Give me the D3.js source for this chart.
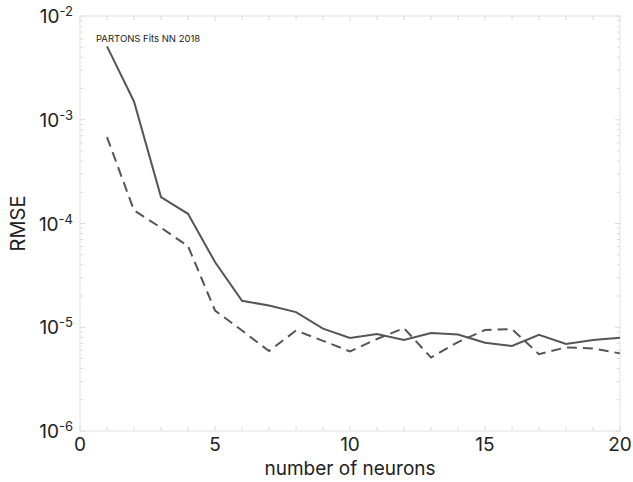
<!DOCTYPE html>
<html lang="en">
<head>
  <meta charset="UTF-8">
  <title>RMSE vs number of neurons</title>
  <script src="https://d3js.org/d3.v7.min.js"></script>
  <style>
    body { margin: 0; background: #fff; font-family: Inter, "Open Sans", sans-serif; }
    .frame { fill: none; stroke: #e2e2e2; stroke-width: 1px; }
    .tick-mark { stroke: #d8d8d8; stroke-width: 1px; }
    .line { fill: none; stroke: #555; stroke-width: 2px; }
    .label { fill: #222; }
  </style>
</head>
<body>
  <svg width="633" height="482"></svg>
  <script>
    const neurons   = d3.range(1, 21);
    const rmseSolid = [5.1e-3, 1.5e-3, 1.8e-4, 1.24e-4, 4.25e-5, 1.8e-5, 1.62e-5, 1.4e-5, 9.7e-6, 7.9e-6,
                       8.6e-6, 7.55e-6, 8.8e-6, 8.5e-6, 7.1e-6, 6.6e-6, 8.45e-6, 6.9e-6, 7.55e-6, 7.9e-6];
    const rmseDashed = [6.8e-4, 1.34e-4, 9.1e-5, 6.05e-5, 1.45e-5, 9.3e-6, 5.9e-6, 9.3e-6, 7.4e-6, 5.85e-6,
                        7.7e-6, 9.8e-6, 5.1e-6, 7.2e-6, 9.4e-6, 9.6e-6, 5.5e-6, 6.4e-6, 6.25e-6, 5.6e-6];
    const xTicks = [0, 5, 10, 15, 20];
    const yExps  = [-2, -3, -4, -5, -6];
    const note   = "PARTONS Fits NN 2018";

    const svg    = d3.select("svg"),
          margin = { top: 16, right: 13, bottom: 51, left: 80 },
          width  = +svg.attr("width")  - margin.left - margin.right,
          height = +svg.attr("height") - margin.top  - margin.bottom,
          g      = svg.append("g").attr("transform", `translate(${margin.left},${margin.top})`);

    const x = d3.scaleLinear().domain([0, 20]).range([0, width]);
    const y = d3.scaleLog().domain([1e-6, 1e-2]).range([height, 0]);

    // minor ticks on all four sides, pointing in
    const xMinor = d3.range(0, 21);
    const yMinor = [];
    [-6, -5, -4, -3].forEach(e => d3.range(1, 10).forEach(m => yMinor.push(m * Math.pow(10, e))));
    yMinor.push(1e-2);

    xMinor.forEach(v => {
      const len = v % 5 === 0 ? 5 : 4;
      g.append("line").attr("class", "tick-mark")
        .attr("x1", x(v)).attr("x2", x(v)).attr("y1", height).attr("y2", height - len);
      g.append("line").attr("class", "tick-mark")
        .attr("x1", x(v)).attr("x2", x(v)).attr("y1", 0).attr("y2", len);
    });
    yMinor.forEach(v => {
      const len = Math.abs(Math.log10(v) - Math.round(Math.log10(v))) < 1e-9 ? 5 : 3;
      g.append("line").attr("class", "tick-mark")
        .attr("y1", y(v)).attr("y2", y(v)).attr("x1", 0).attr("x2", len);
      g.append("line").attr("class", "tick-mark")
        .attr("y1", y(v)).attr("y2", y(v)).attr("x1", width).attr("x2", width - len);
    });

    g.append("rect").attr("class", "frame")
      .attr("x", 0).attr("y", 0).attr("width", width).attr("height", height);

    // x tick labels
    g.selectAll("text.xt").data(xTicks).enter().append("text")
      .attr("class", "xt label")
      .attr("x", d => x(d)).attr("y", height + 20)
      .attr("text-anchor", "middle")
      .style("font-size", "19px")
      .text(d => d);

    // y tick labels 10^e
    const yt = g.selectAll("text.yt").data(yExps).enter().append("text")
      .attr("class", "yt label")
      .attr("x", -7).attr("y", d => y(Math.pow(10, d)) + 7)
      .attr("text-anchor", "end")
      .style("font-size", "19px");
    yt.append("tspan").text("10");
    yt.append("tspan").attr("dy", -7).style("font-size", "13px").text(d => "-" + (-d));

    // axis titles
    svg.append("text").attr("class", "label")
      .attr("x", margin.left + width / 2).attr("y", 475)
      .attr("text-anchor", "middle")
      .style("font-size", "19px")
      .text("number of neurons");
    svg.append("text").attr("class", "label")
      .attr("transform", `translate(25,${margin.top + y(1e-4)}) rotate(-90)`)
      .attr("text-anchor", "middle")
      .style("font-size", "20px")
      .text("RMSE");

    // series
    const line = d3.line().x((d, i) => x(neurons[i])).y(d => y(d));
    g.append("path").datum(rmseSolid).attr("class", "line").attr("d", line);
    g.append("path").datum(rmseDashed).attr("class", "line")
      .attr("stroke-dasharray", "10,6").attr("d", line);

    g.append("text").attr("class", "label")
      .attr("x", 16).attr("y", 26)
      .style("font-size", "9.5px")
      .text(note);
  </script>
</body>
</html>
